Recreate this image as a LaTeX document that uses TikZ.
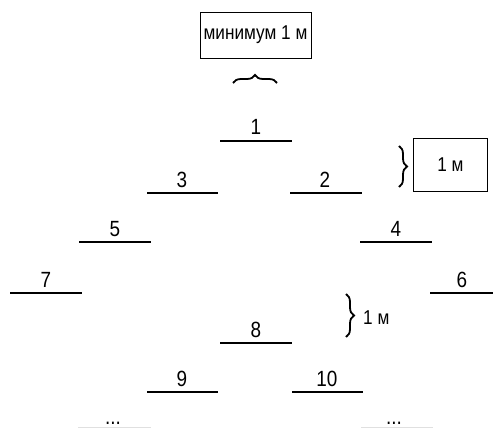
\documentclass[tikz,border=0pt]{standalone}
\usepackage{fontspec}
\setmainfont[FakeStretch=0.86]{Liberation Sans}
\usetikzlibrary{decorations.pathreplacing}
\begin{document}
\begin{tikzpicture}[x=1pt,y=-1pt,font=\fontsize{22}{25}\selectfont]
\tikzset{rung/.style={line width=2pt},
  faint/.style={line width=1pt, color=black!12},
  num/.style={anchor=base, inner sep=0pt},
  brc/.style={decorate, decoration={brace, amplitude=8pt}, line width=1.8pt},
  tag/.style={draw, line width=0.8pt, minimum height=46pt, inner sep=0pt,
    font=\fontsize{20}{23}\selectfont}}
\useasboundingbox (0,0) rectangle (493,428);
% boxes and braces
\node[tag, minimum width=111pt] (top) at (255.5,35) {минимум 1 м};
\draw[brc] (233,83) -- (277,83);
\node[tag, minimum width=74pt, minimum height=53pt] (side) at (450.5,165) {1 м};
\draw[brc] (399,146) -- (399,187);
\draw[brc] (346,294) -- (346,337);
\node[anchor=west, inner sep=0pt, font=\fontsize{20}{23}\selectfont] (gap) at (363,318) {1 м};
% steps
\draw[rung] (220,141) -- (292,141);
\draw[rung] (147,193) -- (218,193);
\draw[rung] (290,193) -- (362,193);
\draw[rung] (79,242) -- (151,242);
\draw[rung] (360,242) -- (432,242);
\draw[rung] (10,293) -- (82,293);
\draw[rung] (430,293) -- (493,293);
\draw[rung] (220,343) -- (292,343);
\draw[rung] (147,392) -- (218,392);
\draw[rung] (292,392) -- (363,392);
\draw[faint] (78,427) -- (151,427);
\draw[faint] (361,427) -- (433,427);
\node[num] (n1) at (256,135) {1};
\node[num] (n3) at (182,187) {3};
\node[num] (n2) at (325,187) {2};
\node[num] (n5) at (115,236) {5};
\node[num] (n4) at (396,236) {4};
\node[num] (n7) at (46,287) {7};
\node[num] (n6) at (462,287) {6};
\node[num] (n8) at (256,337) {8};
\node[num] (n9) at (182,386) {9};
\node[num] (n10) at (327,386) {10};
\node[num] (d1) at (113,424) {...};
\node[num] (d2) at (394,424) {...};
\end{tikzpicture}
\end{document}
